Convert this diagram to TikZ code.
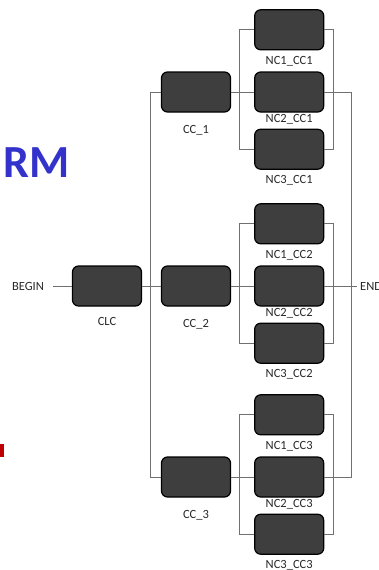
\documentclass[tikz,border=0pt]{standalone}
\usepackage{fontspec}
\setmainfont{Carlito}
\usepackage{xcolor}
\usepackage{tikz}
\usetikzlibrary{positioning}
\definecolor{boxgray}{RGB}{62,62,62}
\definecolor{wiregray}{RGB}{112,112,112}
\definecolor{labelgray}{RGB}{40,40,40}
\definecolor{titleblue}{RGB}{51,51,204}
\definecolor{markred}{RGB}{192,0,0}

\begin{document}
\begin{tikzpicture}[x=1pt, y=-1pt, font=\fontsize{12.5}{15}\selectfont,
      node distance=21pt and 23pt,
      box/.style={draw=black, line width=1.2pt, fill=boxgray, rounded corners=6pt,
                  minimum width=69pt, minimum height=40pt, inner sep=0pt},
      tag/.style={text=labelgray, inner sep=1pt},
      wire/.style={draw=wiregray, line width=0.8pt}]
    \useasboundingbox (0,0) rectangle (378,570);
    % slide leftovers
    \node[anchor=west, inner sep=0pt, text=titleblue, font=\fontsize{46}{50}\selectfont\bfseries] (title) at (3,163) {RM};
    \fill[markred] (0,444) rectangle (4,457);
    % main chain
    \node[box] (CLC) at (107,286) {};
    \node[box] (CC1) at (196,92) {};
    \node[box] (CC2) at (196,286) {};
    \node[box] (CC3) at (196,477) {};
    \node[tag, inner xsep=9pt] (BEGIN) at (28,286) {BEGIN};
    \node[tag, below=10pt of CLC] (tCLC) {CLC};
    \node[tag, below=12pt of CC1] (tCC1) {CC\_1};
    \node[tag, below=12pt of CC2] (tCC2) {CC\_2};
    \node[tag, below=12pt of CC3] (tCC3) {CC\_3};
    % first group
    \node[box, right=23pt of CC1] (NC21) {};
    \node[box, above=21pt of NC21] (NC11) {};
    \node[box, below=16pt of NC21] (NC31) {};
    \node[tag, below=5pt of NC11] (tNC11) {NC1\_CC1};
    \node[tag, below=1pt of NC21] (tNC21) {NC2\_CC1};
    \node[tag, below=4pt of NC31] (tNC31) {NC3\_CC1};
    % second group
    \node[box, right=23pt of CC2] (NC22) {};
    \node[box, above=21pt of NC22] (NC12) {};
    \node[box, below=16pt of NC22] (NC32) {};
    \node[tag, below=5pt of NC12] (tNC12) {NC1\_CC2};
    \node[tag, below=1pt of NC22] (tNC22) {NC2\_CC2};
    \node[tag, below=4pt of NC32] (tNC32) {NC3\_CC2};
    % third group
    \node[box, right=23pt of CC3] (NC23) {};
    \node[box, above=21pt of NC23] (NC13) {};
    \node[box, below=16pt of NC23] (NC33) {};
    \node[tag, below=5pt of NC13] (tNC13) {NC1\_CC3};
    \node[tag, below=1pt of NC23] (tNC23) {NC2\_CC3};
    \node[tag, below=4pt of NC33] (tNC33) {NC3\_CC3};
    \node[tag, anchor=west, inner sep=3pt] (END) at (357,286) {END};
    % connectors
    \draw[wire] (BEGIN) -- (CLC);
    \draw[wire] (CLC) -- (CC2);
    \draw[wire] (CC1.west) -- ++(-11pt,0) |- (CC3.west);
    \draw[wire] (CC1) -- (NC21);
    \draw[wire] (CC2) -- (NC22);
    \draw[wire] (CC3) -- (NC23);
    \draw[wire] (NC11.west) -- ++(-15pt,0) |- (NC31.west);
    \draw[wire] (NC12.west) -- ++(-15pt,0) |- (NC32.west);
    \draw[wire] (NC13.west) -- ++(-15pt,0) |- (NC33.west);
    \draw[wire] (NC11.east) -- ++(9pt,0) |- (NC31.east);
    \draw[wire] (NC12.east) -- ++(9pt,0) |- (NC32.east);
    \draw[wire] (NC13.east) -- ++(9pt,0) |- (NC33.east);
    \draw[wire] (NC21.east) -- ++(27pt,0) |- (NC23.east);
    \draw[wire] (NC22) -- (END);
\end{tikzpicture}
\end{document}
